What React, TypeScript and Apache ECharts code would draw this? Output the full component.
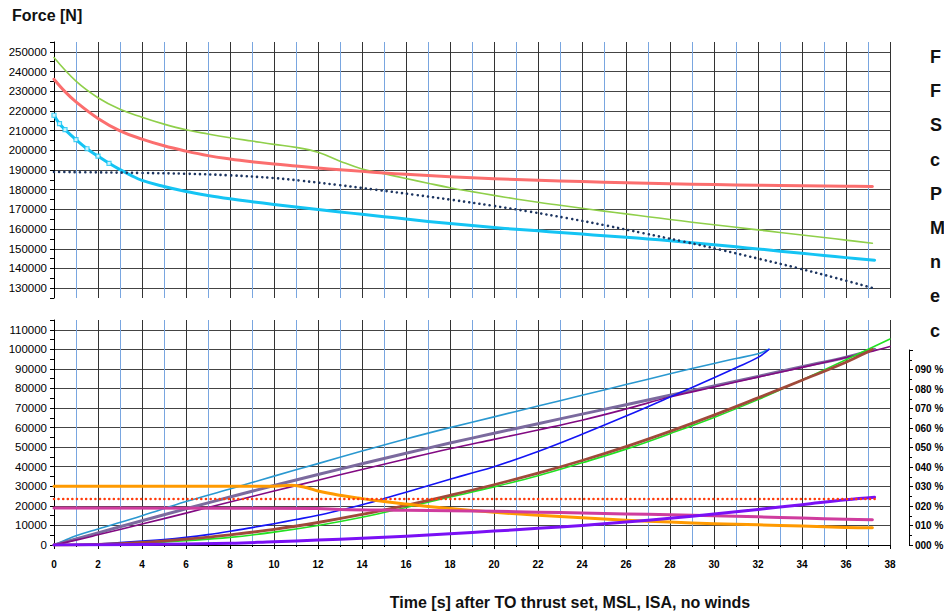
import React, { useEffect, useRef } from "react";
import * as echarts from "echarts";

// ---------- data ----------
// top panel: forces [N] vs time [s]
const greenT = [0, 1, 2, 3, 4, 5, 6, 7, 8, 9, 10, 11, 12, 13, 14, 15, 16, 17, 18, 19, 20, 21, 22, 23, 24, 25, 26, 27, 28, 29, 30, 31, 32, 33, 34, 35, 36, 37.2];
const greenV = [247100, 235100, 226700, 220800, 216800, 213300, 210400, 208300, 206400, 204700, 203000, 201500, 199000, 194500, 190500, 188100, 185700, 183300, 181000, 179000, 177100, 175300, 173600, 172100, 170600, 169100, 167700, 166300, 164900, 163500, 162200, 160900, 159600, 158300, 157000, 155700, 154400, 152800];

const redT = [0, 0.5, 1, 2, 3, 4, 5, 6, 7, 8, 9, 10, 11, 12, 13, 14, 15, 16, 18, 20, 22, 24, 26, 28, 30, 32, 34, 36, 37.2];
const redV = [236100, 229800, 224600, 216200, 209900, 205700, 202300, 199600, 197300, 195600, 194200, 193000, 192000, 191000, 190100, 189300, 188500, 187800, 186600, 185600, 184800, 184100, 183500, 183000, 182600, 182300, 182000, 181800, 181600];

const cyanT = [0, 0.25, 0.5, 1, 1.5, 2, 2.5, 3, 3.5, 4, 5, 6, 7, 8, 9, 10, 11, 12, 13, 14, 15, 16, 17, 18, 19, 20, 21, 22, 23, 24, 25, 26, 27, 28, 29, 30, 31, 32, 33, 34, 35, 36, 37.3];
const cyanV = [217800, 213500, 210500, 205400, 200800, 197000, 193400, 190200, 187300, 184700, 181600, 179100, 177100, 175400, 173900, 172500, 171200, 169900, 168700, 167500, 166300, 165100, 163900, 162800, 161800, 160800, 159900, 159100, 158300, 157500, 156600, 155800, 155000, 154100, 153100, 152100, 151000, 149900, 148800, 147700, 146600, 145500, 144200];

const navyT = [0, 2, 4, 6, 8, 10, 11.2, 12.9, 14.6, 16.4, 18.1, 19.9, 21.6, 23.35, 25.1, 26.8, 28.6, 30.3, 32.05, 33.8, 35.5, 37.3];
const navyV = [189000, 188800, 188500, 188100, 187300, 185900, 184600, 182400, 180000, 177400, 174800, 171900, 168900, 165500, 161800, 157900, 153700, 149500, 144900, 140200, 135300, 129800];

// bottom panel
const tealT = [0, 0.5, 1, 2, 4, 6, 8, 10, 12, 14, 16, 18, 20, 22, 24, 26, 28, 30, 31, 32, 32.5];
const tealV = [0, 2400, 4700, 8200, 15000, 22200, 28600, 35200, 41600, 48000, 54200, 60000, 65500, 71000, 76500, 82000, 87500, 92800, 95300, 97800, 100000];

const greyPurpleT = [0, 1, 2, 4, 6, 8, 10, 12, 14, 16, 18, 20, 22, 24, 26, 28, 30, 32, 34, 36, 37.3];
const greyPurpleV = [0, 3100, 6200, 12400, 18500, 24500, 30400, 36000, 41500, 46900, 52100, 57100, 62000, 66900, 71700, 76500, 81300, 86200, 91100, 96000, 100000];

const purpleT = [0, 1, 2, 4, 6, 8, 10, 12, 14, 16, 18, 20, 22, 24, 26, 28, 30, 32, 34, 36, 37, 38];
const purpleV = [0, 2500, 5200, 10700, 16300, 22000, 27600, 33100, 38600, 44000, 49200, 54000, 58800, 63800, 69500, 75600, 80800, 85800, 90800, 95800, 98500, 101500];

const blueT = [0, 1, 2, 3, 4, 5, 6, 7, 8, 9, 10, 11, 12, 13, 14, 15, 16, 17, 18, 19, 20, 22, 24, 26, 28, 30, 31, 32, 32.5];
const blueV = [0, 200, 500, 1200, 2000, 2800, 3900, 5300, 7000, 8900, 10900, 13000, 15200, 17800, 20600, 23700, 27000, 30300, 33600, 36800, 40000, 47800, 56600, 65900, 75600, 85500, 90600, 95900, 100000];

const brownT = [0, 2, 4, 6, 8, 10, 12, 14, 16, 18, 20, 22, 24, 26, 28, 30, 32, 34, 36, 37, 37.2];
const brownV = [0, 300, 1300, 3000, 5200, 8000, 11500, 15600, 20300, 25400, 30800, 36700, 43200, 50300, 58100, 66400, 75200, 84200, 93400, 98800, 100000];

const limeT = [0, 2, 4, 6, 8, 10, 12, 14, 16, 18, 20, 22, 24, 26, 28, 30, 32, 34, 36, 38];
const limeV = [0, 200, 900, 2200, 3900, 6600, 10000, 14200, 19200, 24500, 29700, 35400, 42000, 49000, 56900, 65200, 74300, 84400, 94700, 105300];

const orangeT = [0, 10, 10.8, 11.5, 12, 13, 14, 15, 16, 17, 18, 19, 20, 22, 24, 26, 28, 30, 32, 34, 36, 37.2];
const orangeV = [30000, 30000, 30500, 29300, 27600, 25400, 23700, 22200, 20900, 19700, 18600, 17600, 16700, 15200, 13900, 12700, 11700, 10900, 10300, 9700, 9000, 8800];

const magentaT = [0, 12, 13, 16, 18, 20, 22, 24, 26, 28, 30, 32, 34, 36, 37.2];
const magentaV = [18900, 18700, 18200, 17800, 17500, 17200, 16800, 16300, 15900, 15400, 14900, 14400, 13800, 13100, 12900];

const violetT = [0, 4, 8, 10, 12, 14, 16, 18, 20, 22, 24, 26, 28, 30, 32, 34, 36, 37.3];
const violetV = [0, 200, 900, 1700, 2500, 3400, 4500, 5800, 7100, 8500, 10000, 11700, 13700, 15800, 18200, 20600, 23100, 24400];

const redDotT = [0, 37.3];
const redDotV = [23500, 23500];

const cyanMarkerCount = 7; // the first samples of the cyan trace carry square markers

const xTicks = { min: 0, max: 38, interval: 2 };
const topY = { min: 125000, max: 255000, interval: 5000 };
const botY = { min: 0, max: 115000, interval: 5000 };
const pctAxis = { min: 0, max: 100, interval: 10 };
const sideLetters = ["F", "F", "S", "c", "P", "M", "n", "e", "c"];

const FONT = "'Liberation Sans', Arial, sans-serif";

const zip = (t: number[], v: number[]) => t.map((x, i) => [x, v[i]]);

export default function App() {
  const ref = useRef<HTMLDivElement>(null);
  useEffect(() => {
    if (!ref.current) return;
    const chart = echarts.init(ref.current, undefined, { renderer: "svg" });

    const xAxisBase = (gridIndex: number, showLabels: boolean) => ({
      type: "value",
      gridIndex,
      min: xTicks.min,
      max: xTicks.max,
      interval: xTicks.interval,
      axisLine: { show: showLabels, onZero: false, lineStyle: { color: "#000", width: 1 } },
      axisTick: { show: showLabels, length: 4, lineStyle: { color: "#000" } },
      minorTick: { show: showLabels, splitNumber: 2, length: 2, lineStyle: { color: "#000" } },
      axisLabel: {
        show: showLabels,
        margin: 14,
        fontFamily: FONT,
        fontWeight: "bold",
        fontSize: 10,
        color: "#000",
      },
      splitLine: { show: true, lineStyle: { color: "#333", width: 1 } },
      minorSplitLine: { show: true, lineStyle: { color: "#79a6e0", width: 1 } },
    });

    const yAxisBase = (gridIndex: number, rng: any, colors: string[]) => ({
      type: "value",
      gridIndex,
      min: rng.min,
      max: rng.max,
      interval: rng.interval,
      axisLine: { show: true, lineStyle: { color: "#000", width: 1 } },
      axisTick: { show: true, length: 4, lineStyle: { color: "#000" } },
      axisLabel: {
        margin: 7,
        fontFamily: FONT,
        fontSize: 11.5,
        color: "#000",
        formatter: (v: number) => (v % 10000 === 0 ? String(v) : ""),
      },
      splitLine: { show: true, showMinLine: true, showMaxLine: true, lineStyle: { color: colors, width: 1 } },
    });

    const T = "rgba(0,0,0,0)";
    const line = (name: string, t: number[], v: number[], color: string, width: number, xi: number, yi: number, type: any = "solid") => ({
      name,
      type: "line",
      xAxisIndex: xi,
      yAxisIndex: yi,
      data: zip(t, v),
      showSymbol: false,
      symbol: "none",
      smooth: 0.4,
      lineStyle: { color, width, type, join: "round", cap: "round" },
      z: 5,
    });

    const option: any = {
      animation: false,
      backgroundColor: "#fff",
      grid: [
        { left: 54, top: 42, width: 836, height: 256 },
        { left: 54, top: 320, width: 836, height: 225 },
        { left: 909, top: 350, width: 1, height: 195 },
      ],
      xAxis: [
        xAxisBase(0, false),
        xAxisBase(1, true),
        { type: "value", gridIndex: 2, show: false, min: 0, max: 1 },
      ],
      yAxis: [
        yAxisBase(0, topY, [T, "#444"]),
        yAxisBase(1, botY, ["#444", T]),
        {
          type: "value",
          gridIndex: 2,
          position: "left",
          min: pctAxis.min,
          max: pctAxis.max,
          interval: pctAxis.interval,
          axisLine: { show: true, lineStyle: { color: "#000" } },
          axisTick: { show: true, inside: true, length: 4, lineStyle: { color: "#000" } },
          minorTick: { show: true, splitNumber: 2, length: 3, lineStyle: { color: "#000" } },
          splitLine: { show: false },
          axisLabel: {
            inside: true,
            margin: 6,
            fontFamily: FONT,
            fontWeight: "bold",
            fontSize: 10,
            color: "#000",
            padding: [7, 0, 0, 0],
            formatter: (v: number) => (v >= 100 ? "" : String(v).padStart(3, "0") + " %"),
          },
        },
      ],
      series: [
        line("Green force", greenT, greenV, "#8fcf4a", 1.6, 0, 0),
        line("Red force", redT, redV, "#fb6e6e", 3, 0, 0),
        line("Cyan force", cyanT, cyanV, "#14c4f4", 3, 0, 0),
        {
          name: "Cyan samples",
          type: "scatter",
          xAxisIndex: 0,
          yAxisIndex: 0,
          data: zip(cyanT, cyanV).slice(0, cyanMarkerCount),
          symbol: "rect",
          symbolSize: 4,
          itemStyle: { color: "#ffffff", borderColor: "#14c4f4", borderWidth: 1.2 },
          z: 6,
        },
        line("Navy force", navyT, navyV, "#1d3560", 2.6, 0, 0, [0.01, 5.2]),
        line("Teal", tealT, tealV, "#2a98d0", 1.6, 1, 1),
        line("Grey purple", greyPurpleT, greyPurpleV, "#7b6a9e", 3, 1, 1),
        line("Purple", purpleT, purpleV, "#820a82", 1.6, 1, 1),
        line("Blue", blueT, blueV, "#1414f5", 1.6, 1, 1),
        line("Lime", limeT, limeV, "#22e022", 1.6, 1, 1),
        line("Brown", brownT, brownV, "#a04a3a", 2.8, 1, 1),
        line("Orange", orangeT, orangeV, "#ff9a00", 3, 1, 1),
        line("Magenta", magentaT, magentaV, "#cf3c9e", 3, 1, 1),
        line("Violet", violetT, violetV, "#7a10f5", 3, 1, 1),
        line("Red dotted", redDotT, redDotV, "#ff3a0a", 2.6, 1, 1, [0.01, 4.6]),
      ],
      graphic: [
        {
          type: "text",
          left: 12,
          top: 7,
          style: { text: "Force [N]", font: `bold 16px ${FONT}`, fill: "#111" },
        },
        {
          type: "text",
          x: 570,
          y: 602,
          style: {
            text: "Time [s] after TO thrust set, MSL, ISA, no winds",
            font: `bold 16px ${FONT}`,
            fill: "#111",
            align: "center",
            verticalAlign: "middle",
          },
        },
        ...sideLetters.map((s, i) => ({
          type: "text",
          x: 930,
          y: 57 + i * 34.2,
          style: { text: s, font: `bold 18px ${FONT}`, fill: "#111", verticalAlign: "middle" },
        })),
      ],
    };
    chart.setOption(option);
    return () => chart.dispose();
  }, []);
  return <div ref={ref} style={{ position: "fixed", left: 0, top: 0, width: 944, height: 613, background: "#fff" }} />;
}
